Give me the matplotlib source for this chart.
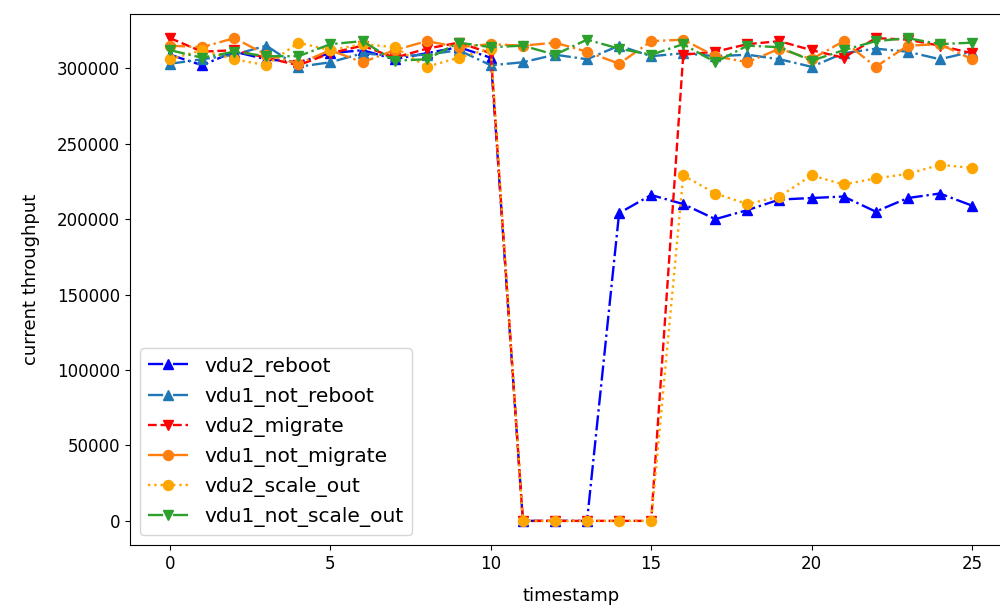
import numpy as np
import matplotlib
matplotlib.use("Agg")
import matplotlib.pyplot as plt

timestamp = list(range(26))

vdu2_reboot = [309000, 302000, 311000, 306000, 304000, 310000, 312000, 306000, 310000, 314000, 307000,
               0, 0, 0, 204000, 216000, 210000, 200000, 206000, 213000, 214000, 215000, 205000, 214000, 217000, 209000]
vdu1_not_reboot = [303000, 306000, 309000, 315000, 301000, 304000, 310000, 308000, 309000, 312000, 302000,
                   304000, 309000, 306000, 315000, 308000, 310000, 308000, 309000, 306000, 301000, 310000,
                   313000, 311000, 306000, 311000]
vdu2_migrate = [320000, 311000, 312000, 307000, 302000, 310000, 315000, 307000, 313000, 317000, 310000,
                0, 0, 0, 0, 0, 309000, 311000, 316000, 318000, 312000, 307000, 320000, 319000, 315000, 310000]
vdu1_not_migrate = [315000, 314000, 320000, 309000, 303000, 312000, 304000, 312000, 318000, 314000, 316000,
                    315000, 317000, 311000, 303000, 318000, 319000, 308000, 304000, 313000, 306000, 318000,
                    301000, 315000, 316000, 306000]
vdu2_scale_out = [306000, 312000, 306000, 302000, 317000, 312000, 316000, 314000, 301000, 307000, 313000,
                  0, 0, 0, 0, 0, 229000, 217000, 210000, 215000, 229000, 223000, 227000, 230000, 236000, 234000]
vdu1_not_scale_out = [312000, 307000, 311000, 308000, 308000, 316000, 318000, 305000, 306000, 317000, 314000,
                      315000, 309000, 319000, 313000, 309000, 316000, 304000, 315000, 314000, 305000, 312000,
                      318000, 320000, 316000, 317000]

fig = plt.figure(figsize=(10, 6.08), dpi=100)
ax = fig.add_axes([0.13, 0.1036, 0.882, 0.8734])

lw = 1.7
ms = 7.2
ax.plot(timestamp, vdu2_reboot, '-.', color='blue', marker='^', lw=lw, ms=ms, label='vdu2_reboot')
ax.plot(timestamp, vdu1_not_reboot, '-.', color='tab:blue', marker='^', lw=lw, ms=ms, label='vdu1_not_reboot')
ax.plot(timestamp, vdu2_migrate, '--', color='red', marker='v', lw=lw, ms=ms, label='vdu2_migrate')
ax.plot(timestamp, vdu1_not_migrate, '-.', color='tab:orange', marker='o', lw=lw, ms=ms, label='vdu1_not_migrate')
ax.plot(timestamp, vdu2_scale_out, ':', color='orange', marker='o', lw=lw, ms=ms, label='vdu2_scale_out')
ax.plot(timestamp, vdu1_not_scale_out, '-.', color='tab:green', marker='v', lw=lw, ms=ms, label='vdu1_not_scale_out')

ax.set_xlabel('timestamp', fontsize=13, labelpad=10)
ax.set_ylabel('current throughput', fontsize=13, labelpad=12)
ax.tick_params(labelsize=12)
ax.legend(loc='lower left', fontsize=14.5)

fig.savefig('out.png', dpi=100)
